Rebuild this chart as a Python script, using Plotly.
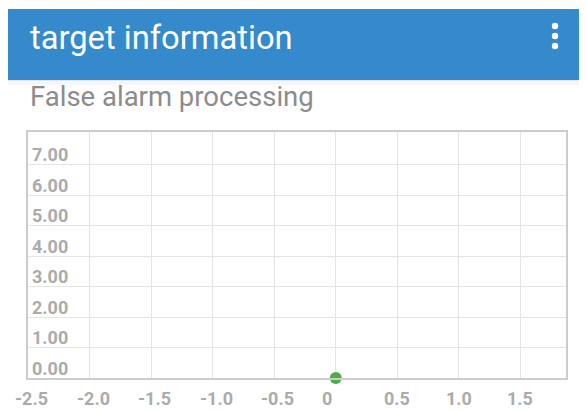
import plotly.graph_objects as go

# ---- data ----
point_x = [0.0]
point_y = [0.0]
x_tick_vals = [-2.5, -2.0, -1.5, -1.0, -0.5, 0.0, 0.5, 1.0, 1.5]
x_tick_text = ["-2.5", "-2.0", "-1.5", "-1.0", "-0.5", "0", "0.5", "1.0", "1.5"]
y_tick_vals = [0, 1, 2, 3, 4, 5, 6, 7]
y_tick_text = ["0.00", "1.00", "2.00", "3.00", "4.00", "5.00", "6.00", "7.00"]
header_title = "target information"
sub_title = "False alarm processing"

# page body has an 8px default margin: lay out in reference pixel coords minus 8
OFF = 8
W, H = 587 - OFF, 411 - OFF
ML, MR, MT, MB = 28 - OFF, W - (566 - OFF), 132 - OFF, H - (378 - OFF)
PW, PH = W - ML - MR, H - MT - MB


def px(xr):
    return (xr - OFF - ML) / PW


def py(yr):
    return (H - MB - (yr - OFF)) / PH


TICK_FONT = dict(family="Roboto", size=18, color="#ababab", weight="bold")

fig = go.Figure()
fig.add_trace(go.Scatter(
    x=point_x, y=point_y, mode="markers",
    marker=dict(color="#4EAC46", size=12, line=dict(width=0)),
    cliponaxis=False, showlegend=False, hoverinfo="skip",
))

shapes = []
for i, op in enumerate([0.22, 0.15, 0.10, 0.06, 0.03]):
    shapes.append(dict(type="rect", xref="paper", yref="paper",
                       x0=px(8), x1=px(600), y0=py(81 + i * 1.6), y1=py(80 + i * 1.6),
                       fillcolor="#888888", opacity=op, line=dict(width=0), layer="above"))
shapes.append(dict(type="rect", xref="paper", yref="paper",
                   x0=px(8), x1=px(600), y0=py(80), y1=py(9),
                   fillcolor="#348ACB", line=dict(width=0), layer="above"))
for cy in [26, 36, 46]:
    shapes.append(dict(type="circle", xref="paper", yref="paper",
                       x0=px(551.8), x1=px(558.2), y0=py(cy + 3.2), y1=py(cy - 3.2),
                       fillcolor="white", line=dict(width=0), layer="above"))

annotations = [
    dict(text=header_title, xref="paper", yref="paper", x=px(28), y=py(38),
         xanchor="left", yanchor="middle", showarrow=False,
         font=dict(family="Roboto", size=32.7, color="white")),
    dict(text=sub_title, xref="paper", yref="paper", x=px(28), y=py(97),
         xanchor="left", yanchor="middle", showarrow=False,
         font=dict(family="Roboto", size=27.5, color="#8c8c8c")),
]

# x tick labels (digits centred on the grid line, as in the reference)
for v, t in zip(x_tick_vals, x_tick_text):
    if t.startswith("-"):
        dx = 3.5
    elif t == "0":
        dx = -9
    else:
        dx = 0
    annotations.append(dict(text=t, xref="x", yref="y", x=v, y=0,
                            xanchor="center", yanchor="middle", xshift=dx, yshift=-20,
                            showarrow=False, font=TICK_FONT))

# y tick labels, inside the plot just above each grid line
for v, t in zip(y_tick_vals, y_tick_text):
    annotations.append(dict(text=t, xref="paper", yref="y", x=px(30), y=v,
                            xanchor="left", yanchor="middle", yshift=10,
                            showarrow=False, font=TICK_FONT))

fig.update_layout(
    width=W, height=H,
    margin=dict(l=ML, r=MR, t=MT, b=MB, autoexpand=False),
    paper_bgcolor="white", plot_bgcolor="white",
    shapes=shapes, annotations=annotations,
    xaxis=dict(range=[-2.5, 1.87], tickvals=x_tick_vals,
               showgrid=True, gridcolor="#e4e4e4", gridwidth=1, zeroline=False,
               showline=True, linecolor="#cccccc", linewidth=1.5, mirror=True,
               ticks="", showticklabels=False, automargin=False),
    yaxis=dict(range=[0, 8.07], tickvals=y_tick_vals,
               showgrid=True, gridcolor="#e4e4e4", gridwidth=1, zeroline=False,
               showline=True, linecolor="#cccccc", linewidth=1.5, mirror=True,
               ticks="", showticklabels=False, automargin=False),
)

fig.write_html("out.html")
